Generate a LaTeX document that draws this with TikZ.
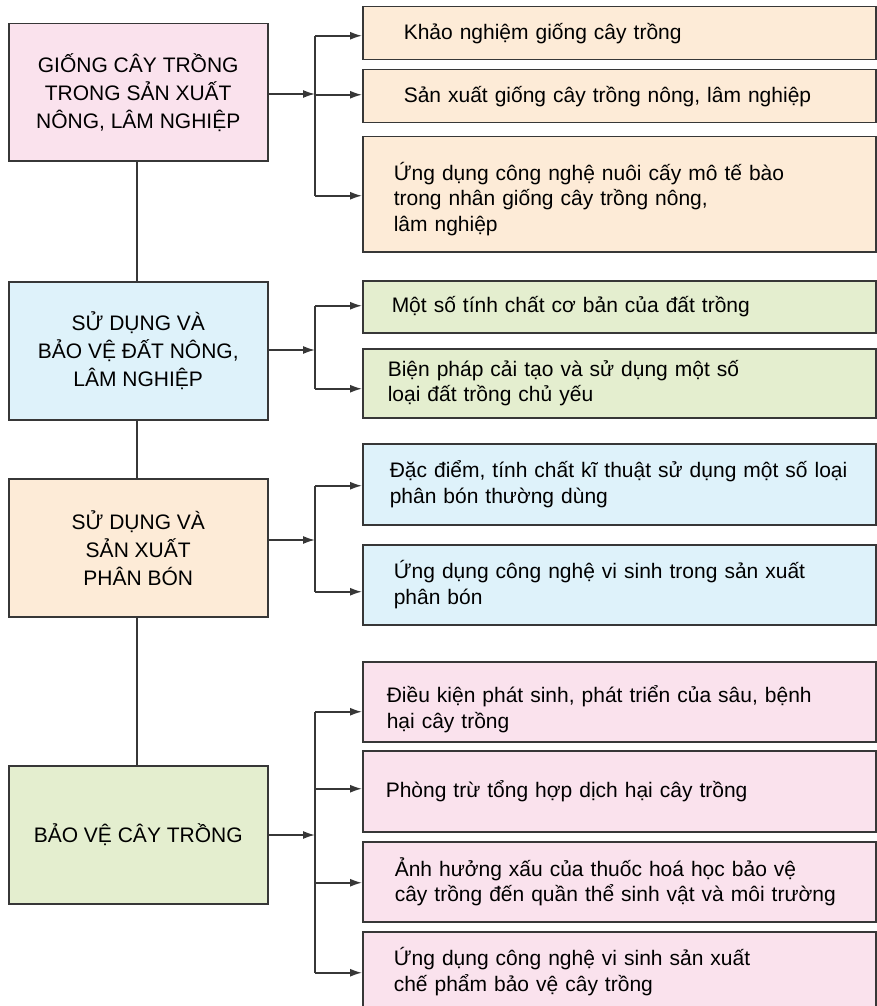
\documentclass[tikz,border=0pt]{standalone}
\usepackage{fontspec}
\setmainfont{Liberation Sans}
\usetikzlibrary{arrows.meta}

\begin{document}
\begin{tikzpicture}[x=1pt,y=-1pt,
  mainBox/.style={draw=lineColor, line width=1.5pt, minimum width=259pt, minimum height=138pt, align=center, anchor=north west, font=\fontsize{21}{28}\selectfont},
  leafBox/.style={draw=lineColor, line width=1.5pt, align=left, anchor=north west, inner ysep=0pt, font=\fontsize{21}{25.5}\selectfont},
  myArrow/.style={draw=lineColor, line width=1.6pt, -{Latex[length=12pt,width=8pt]}},
  myLine/.style={draw=lineColor, line width=1.6pt}]
\definecolor{lineColor}{RGB}{55,55,55}
\definecolor{pinkFill}{RGB}{250,226,237}
\definecolor{peachFill}{RGB}{253,235,215}
\definecolor{blueFill}{RGB}{222,242,250}
\definecolor{greenFill}{RGB}{228,238,207}
\useasboundingbox (0,0) rectangle (877,1006);

% left column
\node[mainBox, fill=pinkFill, minimum height=137pt] (L1) at (8,23) {GIỐNG CÂY TRỒNG\\TRONG SẢN XUẤT\\NÔNG, LÂM NGHIỆP};
\node[mainBox, fill=blueFill] (L2) at (8,281) {SỬ DỤNG VÀ\\BẢO VỆ ĐẤT NÔNG,\\LÂM NGHIỆP};
\node[mainBox, fill=peachFill] (L3) at (8,478) {SỬ DỤNG VÀ\\SẢN XUẤT\\PHÂN BÓN};
\node[mainBox, fill=greenFill] (L4) at (8,765) {BẢO VỆ CÂY TRỒNG};
\draw[myLine] ([xshift=-1.5pt]L1.south) -- ([xshift=-1.5pt]L2.north);
\draw[myLine] ([xshift=-1.5pt]L2.south) -- ([xshift=-1.5pt]L3.north);
\draw[myLine] ([xshift=-1.5pt]L3.south) -- ([xshift=-1.5pt]L4.north);

% right column
\node[leafBox, fill=peachFill, minimum height=53pt, inner xsep=41pt, text width=431pt] (P1) at (362,6) {Khảo nghiệm giống cây trồng};
\node[leafBox, fill=peachFill, minimum height=53pt, inner xsep=41pt, text width=431pt] (P2) at (362,69) {Sản xuất giống cây trồng nông, lâm nghiệp};
\node[leafBox, fill=peachFill, minimum height=115pt, inner xsep=31pt, text width=451pt] (P3) at (362,136) {\rule{0pt}{27pt}Ứng dụng công nghệ nuôi cấy mô tế bào\\trong nhân giống cây trồng nông,\\lâm nghiệp};
\node[leafBox, fill=greenFill, minimum height=52pt, inner xsep=29pt, text width=455pt] (G1) at (362,280) {Một số tính chất cơ bản của đất trồng};
\node[leafBox, fill=greenFill, minimum height=69pt, inner xsep=25pt, text width=463pt] (G2) at (362,348) {Biện pháp cải tạo và sử dụng một số\\loại đất trồng chủ yếu};
\node[leafBox, fill=blueFill, minimum height=81pt, inner xsep=27pt, text width=459pt] (B1) at (362,443) {Đặc điểm, tính chất kĩ thuật sử dụng một số loại\\phân bón thường dùng};
\node[leafBox, fill=blueFill, minimum height=80pt, inner xsep=31pt, text width=451pt] (B2) at (362,544) {Ứng dụng công nghệ vi sinh trong sản xuất\\phân bón};
\node[leafBox, fill=pinkFill, minimum height=80pt, inner xsep=24pt, text width=465pt] (K1) at (362,661) {\rule{0pt}{32pt}Điều kiện phát sinh, phát triển của sâu, bệnh\\hại cây trồng};
\node[leafBox, fill=pinkFill, minimum height=81pt, inner xsep=23pt, text width=467pt] (K2) at (362,750) {Phòng trừ tổng hợp dịch hại cây trồng};
\node[leafBox, fill=pinkFill, minimum height=80pt, inner xsep=32pt, text width=449pt] (K3) at (362,841) {Ảnh hưởng xấu của thuốc hoá học bảo vệ\\cây trồng đến quần thể sinh vật và môi trường};
\node[leafBox, fill=pinkFill, minimum height=80pt, inner xsep=31pt, text width=451pt] (K4) at (362,931) {Ứng dụng công nghệ vi sinh sản xuất\\chế phẩm bảo vệ cây trồng};

% brackets
\coordinate (b1) at (315,94);
\coordinate (b2) at (315,350);
\coordinate (b3) at (315,540);
\coordinate (b4) at (315,835);
\draw[myArrow] (b1 -| L1.east) -- (b1);
\draw[myArrow] (b2 -| L2.east) -- (b2);
\draw[myArrow] (b3 -| L3.east) -- (b3);
\draw[myArrow] (b4 -| L4.east) -- (b4);
\foreach \k/\s in {P1/-2.5,P2/1.5,P3/-1.5,G1/1,G2/-5.5,B1/-1.5,B2/-7,K1/-10,K2/2.5,K3/-1,K4/-1}
  \coordinate (e\k) at ([yshift=\s pt]\k.west);
\draw[myLine] (b1 |- eP1) -- (b1 |- eP3);
\draw[myLine] (b2 |- eG1) -- (b2 |- eG2);
\draw[myLine] (b3 |- eB1) -- (b3 |- eB2);
\draw[myLine] (b4 |- eK1) -- (b4 |- eK4);
\foreach \k in {P1,P2,P3} \draw[myArrow] (b1 |- e\k) -- (e\k);
\foreach \k in {G1,G2} \draw[myArrow] (b2 |- e\k) -- (e\k);
\foreach \k in {B1,B2} \draw[myArrow] (b3 |- e\k) -- (e\k);
\foreach \k in {K1,K2,K3,K4} \draw[myArrow] (b4 |- e\k) -- (e\k);
\end{tikzpicture}
\end{document}
